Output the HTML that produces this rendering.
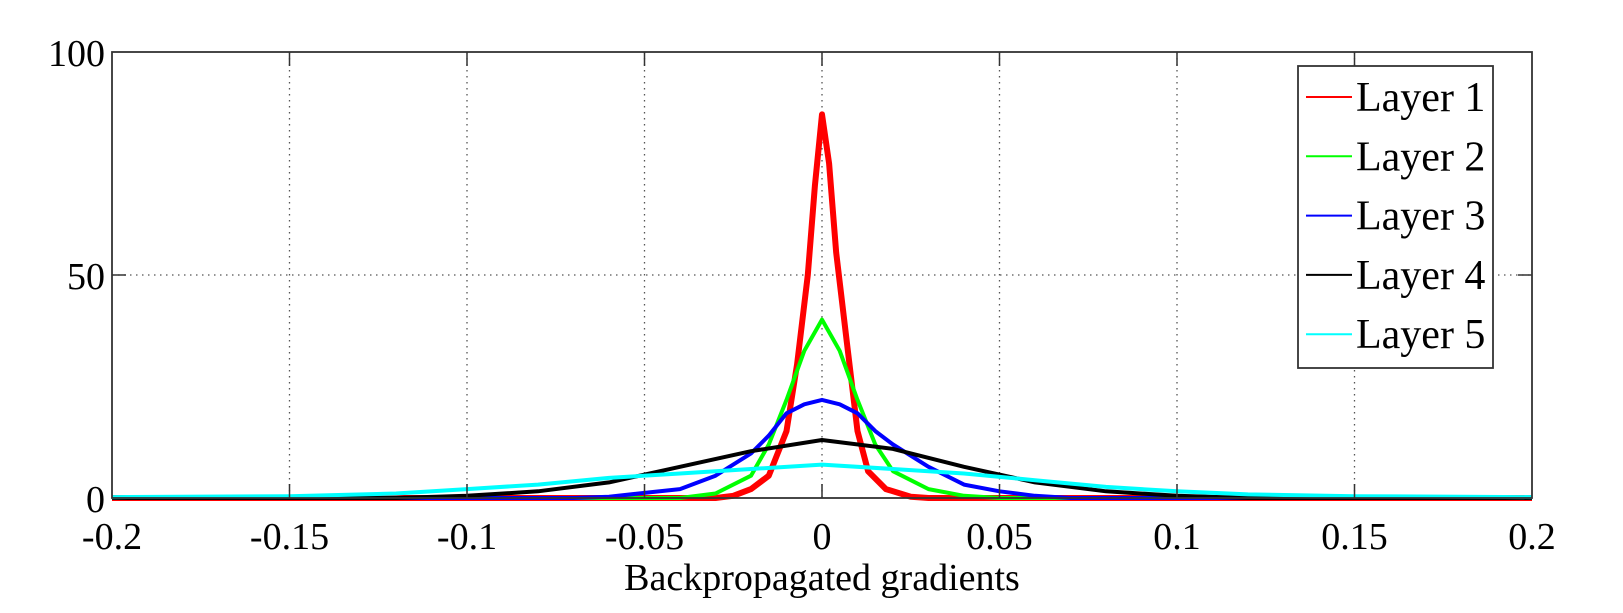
<!DOCTYPE html>
<html><head><meta charset="utf-8"><style>
body{margin:0;background:#fff}
svg{display:block}
text{font-family:"Liberation Serif",serif;fill:#000}
</style></head><body>
<svg id="chart" width="1623" height="613" viewBox="0 0 1623 613" xmlns="http://www.w3.org/2000/svg">
<rect width="1623" height="613" fill="#fff"/>
<g id="grid"></g>
<g id="series"></g>
<g id="axes"></g>
<g id="legend"></g>
</svg>
<script>
const xTicks=[-0.2,-0.15,-0.1,-0.05,0,0.05,0.1,0.15,0.2];
const xTickLabels=["-0.2","-0.15","-0.1","-0.05","0","0.05","0.1","0.15","0.2"];
const yTicks=[0,50,100];
const yTickLabels=["0","50","100"];
const seriesNames=["Layer 1","Layer 2","Layer 3","Layer 4","Layer 5"];
const seriesColors=["#ff0000","#00ff00","#0000ff","#000000","#00ffff"];
const l1x=[-0.2,-0.03,-0.025,-0.02,-0.015,-0.01,-0.007,-0.004,-0.002,0,0.002,0.004,0.007,0.01,0.013,0.018,0.025,0.03,0.2];
const l1y=[0,0,0.5,2,5,15,30,50,70,86,75,55,35,15,6,2,0.3,0,0];
const l2x=[-0.2,-0.04,-0.03,-0.02,-0.015,-0.01,-0.005,0,0.005,0.01,0.015,0.02,0.03,0.04,0.05,0.2];
const l2y=[0,0,1,5,12,22,33,40,33,22,12,6,2,0.5,0,0];
const l3x=[-0.2,-0.07,-0.06,-0.04,-0.03,-0.02,-0.015,-0.01,-0.005,0,0.005,0.01,0.015,0.02,0.03,0.04,0.05,0.06,0.07,0.2];
const l3y=[0,0,0.3,2,5,10,14,19,21,22,21,19,15,12,7,3,1.5,0.5,0,0];
const l4x=[-0.2,-0.12,-0.1,-0.08,-0.06,-0.04,-0.02,0,0.02,0.04,0.06,0.08,0.1,0.12,0.2];
const l4y=[0,0,0.5,1.5,3.5,7,10.5,13,11,7,3.5,1.5,0.5,0,0];
const l5x=[-0.2,-0.15,-0.12,-0.1,-0.08,-0.06,-0.04,-0.02,0,0.02,0.04,0.06,0.08,0.1,0.12,0.15,0.2];
const l5y=[0.2,0.4,1,2,3,4.5,5.5,6.5,7.5,6.5,5.5,4,2.5,1.5,0.8,0.4,0.2];
const seriesX=[l1x,l2x,l3x,l4x,l5x];
const seriesY=[l1y,l2y,l3y,l4y,l5y];

const NS="http://www.w3.org/2000/svg";
const L=112,R=1532,T=52,B=498;
const xs=v=>L+(v+0.2)/0.4*(R-L);
const ys=v=>B-v/100*(B-T);
function mk(tag,attrs,parent){const e=document.createElementNS(NS,tag);for(const k in attrs)e.setAttribute(k,attrs[k]);parent.appendChild(e);return e;}
const grid=document.getElementById('grid'),ser=document.getElementById('series'),axes=document.getElementById('axes'),leg=document.getElementById('legend');

xTicks.forEach((t,i)=>{
  const x=xs(t);
  if(i>0&&i<xTicks.length-1){
    const g=mk('line',{x1:x,x2:x,y1:T,y2:B,stroke:'#555','stroke-width':1.3,'stroke-dasharray':'1.5 4.5'},grid);
    
    
    const tk=mk('line',{x1:x,x2:x,y1:B,y2:B-14,stroke:'#333','stroke-width':1.5},axes);
    
    
    const tk2=mk('line',{x1:x,x2:x,y1:T,y2:T+14,stroke:'#333','stroke-width':1.5},axes);
    
    
  }
  const tx=mk('text',{x:x,y:549,'font-size':38,'text-anchor':'middle'},axes);
  tx.textContent=xTickLabels[i];
  
  
});
yTicks.forEach((t,i)=>{
  const y=ys(t);
  if(i>0&&i<yTicks.length-1){
    const g=mk('line',{x1:L,x2:R,y1:y,y2:y,stroke:'#555','stroke-width':1.3,'stroke-dasharray':'1.5 4.5'},grid);
    
    
    const tk=mk('line',{x1:L,x2:L+14,y1:y,y2:y,stroke:'#333','stroke-width':1.5},axes);
    
    
    const tk2=mk('line',{x1:R,x2:R-14,y1:y,y2:y,stroke:'#333','stroke-width':1.5},axes);
    
    
  }
  const tx=mk('text',{x:105,y:y+14,'font-size':38,'text-anchor':'end'},axes);
  tx.textContent=yTickLabels[i];
  
  
});

seriesX.forEach((xa,s)=>{
  const pts=xa.map((v,i)=>xs(v).toFixed(1)+','+ys(seriesY[s][i]).toFixed(1)).join(' ');
  const p=mk('polyline',{points:pts,fill:'none',stroke:seriesColors[s],'stroke-width':s===0?6:4,'stroke-linejoin':'round'},ser);
  
  
});

const frame=mk('rect',{x:L,y:T,width:R-L,height:B-T,fill:'none',stroke:'#333','stroke-width':1.8},axes);


const xl=mk('text',{x:822,y:590,'font-size':38,'text-anchor':'middle'},axes);
xl.textContent='Backpropagated gradients';



const box=mk('rect',{x:1298,y:66,width:195,height:302,fill:'#fff',stroke:'#333','stroke-width':1.8},leg);


seriesNames.forEach((n,i)=>{
  const y=97+i*59.3;
  const g=mk('g',{},leg);
  
  
  mk('line',{x1:1306,x2:1352,y1:y,y2:y,stroke:seriesColors[i],'stroke-width':2},g);
  const t=mk('text',{x:1356,y:y+14,'font-size':42},g);
  t.textContent=n;
});
</script>
</body></html>
